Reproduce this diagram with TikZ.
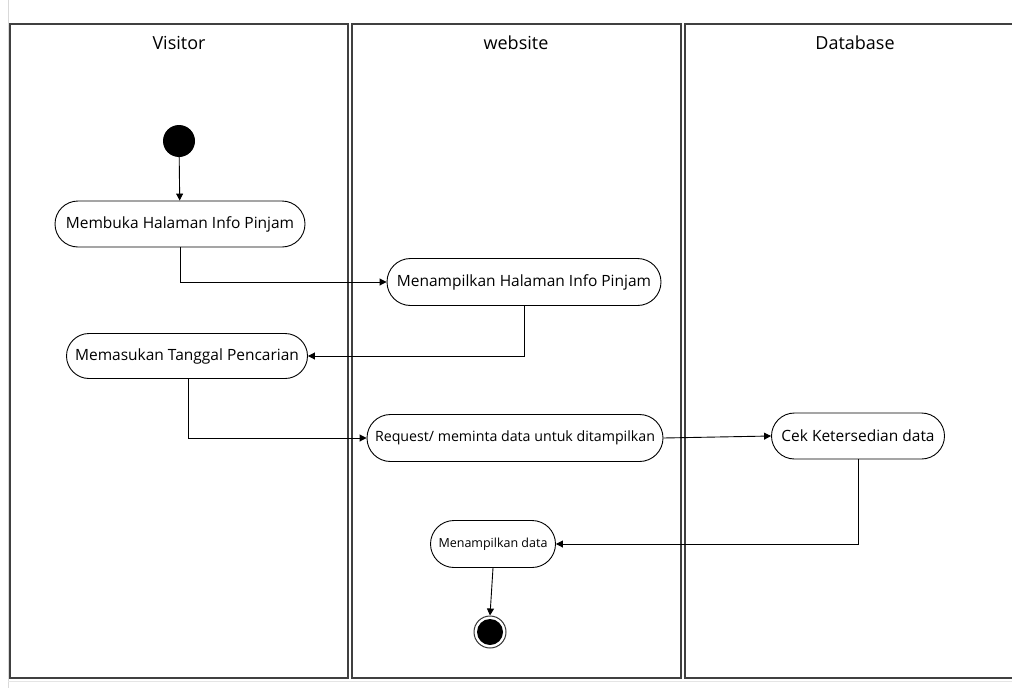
\documentclass[tikz,border=0pt]{standalone}
\usepackage{fontspec}
\setmainfont{Open Sans}
\usepackage{tikz}
\usetikzlibrary{arrows.meta}
\usetikzlibrary{positioning}
\usetikzlibrary{shapes}
\tikzstyle{lane}=[draw=black!75,line width=1.4pt]
\tikzstyle{activity}=[draw,rounded rectangle,line width=0.9pt,inner sep=2pt,font=\fontsize{15.5}{18}\selectfont]
\tikzstyle{small}=[font=\fontsize{12.5}{15}\selectfont]
\tikzstyle{flow}=[line width=0.9pt,-{Triangle[length=7pt,width=7pt]}]

\begin{document}
\begin{tikzpicture}[x=1pt,y=-1pt]
\useasboundingbox (0,0) rectangle (1012,688);
\draw[black!15,line width=1pt] (8,0) -- (8,688);
\draw[black!10,line width=1pt] (8,681) -- (1012,681);
% swimlanes
\draw[lane] (10,24) rectangle (348,678);
\draw[lane] (352,24) rectangle (681,678);
\draw[lane] (1016,24) -- (685,24) -- (685,678) -- (1016,678);
\node[font=\fontsize{18}{21}\selectfont] (visitor) at (179,43) {Visitor};
\node[font=\fontsize{18}{21}\selectfont] (website) at (516,43) {website};
\node[font=\fontsize{18}{21}\selectfont] (database) at (855,43) {Database};
% start and end
\node [circle,fill=black,minimum size=32pt,inner sep=0pt] (start) at (179,141) {};
\node [circle,draw=black!80,line width=1pt,minimum size=32pt,inner sep=0pt] (stop) at (490,632) {};
\node [circle,fill=black,minimum size=26pt,inner sep=0pt] at (stop) {};
% activities
\node [activity,minimum width=254pt,minimum height=46pt] (buka) at (180,224) {Membuka Halaman Info Pinjam};
\node [activity,minimum width=278pt,minimum height=47pt] (tampil) at (524,282) {Menampilkan Halaman Info Pinjam};
\node [activity,minimum width=245pt,minimum height=45pt] (masuk) at (187,356) {Memasukan Tanggal Pencarian};
\node [activity,font=\fontsize{14.2}{17}\selectfont,minimum width=300pt,minimum height=47pt] (request) at (515,438) {Request/ meminta data untuk ditampilkan};
\node [activity,minimum width=177pt,minimum height=46pt] (cek) at (858,436) {Cek Ketersedian data};
\node [activity,small,minimum width=129pt,minimum height=47pt] (hasil) at (493,544) {Menampilkan data};
% flows
\draw[flow] (start) -- (buka);
\draw[flow] (buka.south) |- (tampil.west);
\draw[flow] (tampil.south) |- (masuk.east);
\draw[flow] ([xshift=1pt]masuk.south) |- (request.west);
\draw[flow] (request.east) -- (cek.west);
\draw[flow] (cek.south) |- (hasil.east);
\draw[flow] (hasil.south) -- (stop.north);

\end{tikzpicture}
\end{document}
